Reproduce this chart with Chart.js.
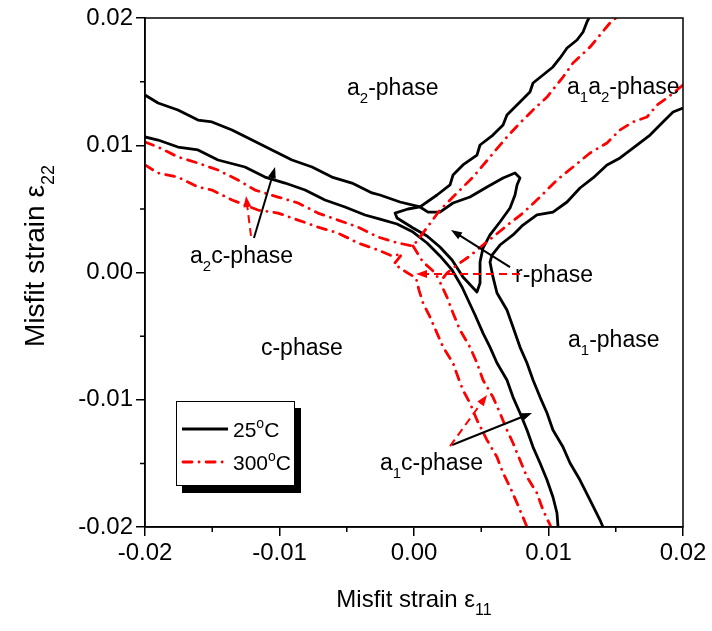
<!DOCTYPE html>
<html>
<head>
<meta charset="utf-8">
<script src="https://cdn.jsdelivr.net/npm/chart.js@4/dist/chart.umd.min.js"></script>
<style>
  html, body { margin: 0; padding: 0; background: #fff; }
  #wrap { width: 712px; height: 631px; }
</style>
</head>
<body>
<div id="wrap"><canvas id="c" width="712" height="631"></canvas></div>
<script>
// axis
const axisMin = -0.02, axisMax = 0.02;
const tickLabels = ['-0.02', '-0.01', '0.00', '0.01', '0.02'];
const minorTicks = [-0.015, -0.005, 0.005, 0.015];

// 25 C: a2 boundary (a2/a2c then a2/a1a2)
const a2X25 = [-0.0200,-0.01903,-0.01755,-0.01606,-0.01502,-0.01353,-0.01204,-0.01056,-0.00907,-0.00758,-0.00610,-0.00461,-0.00312,-0.00253,-0.00104,0.00045,0.00171,0.00268,0.00290,0.00364,0.00468,0.00491,0.00587,0.00662,0.00691,0.00788,0.00862,0.00885,0.00959,0.01033,0.01086,0.01138,0.01212,0.01257,0.01286,0.01301];
const a2Y25 = [0.01395,0.01332,0.01277,0.01198,0.01183,0.01120,0.01041,0.00963,0.00884,0.00829,0.00750,0.00703,0.00625,0.00609,0.00554,0.00515,0.00609,0.00688,0.00766,0.00845,0.00923,0.01002,0.01080,0.01159,0.01238,0.01340,0.01418,0.01489,0.01552,0.01615,0.01686,0.01764,0.01827,0.01890,0.01969,0.0200];

// 25 C: r-phase loop
const rX25 = [0.00045,-0.00045,-0.00141,-0.00126,-0.00007,0.00097,0.00193,0.00283,0.00364,0.00468,0.00491,0.00491,0.00513,0.00565,0.00639,0.00714,0.00751,0.00766,0.00788,0.00751,0.00662,0.00543,0.00416,0.00290,0.00193,0.00104,0.00045];
const rY25 = [0.00515,0.00499,0.00467,0.00428,0.00350,0.00287,0.00200,0.00098,-0.00035,-0.00153,-0.00083,0.00082,0.00192,0.00295,0.00397,0.00507,0.00609,0.00688,0.00743,0.00782,0.00743,0.00672,0.00593,0.00546,0.00475,0.00475,0.00515];

// 25 C: c boundary (c/a2c then c/a1c)
const cX25 = [-0.0200,-0.01903,-0.01755,-0.01606,-0.01457,-0.01257,-0.01108,-0.00959,-0.00810,-0.00662,-0.00513,-0.00364,-0.00253,-0.00126,-0.00007,0.00097,0.00193,0.00283,0.00357,0.00402,0.00454,0.00513,0.00565,0.00617,0.00691,0.00736,0.00788,0.00840,0.00885,0.00937,0.00989,0.01033,0.01063,0.01071];
const cY25 = [0.01065,0.01041,0.00986,0.00963,0.00884,0.00829,0.00750,0.00703,0.00648,0.00570,0.00515,0.00452,0.00420,0.00381,0.00318,0.00232,0.00130,0.00020,-0.00114,-0.00216,-0.00334,-0.00476,-0.00586,-0.00711,-0.00845,-0.00979,-0.01104,-0.01238,-0.01372,-0.01497,-0.01631,-0.01764,-0.01890,-0.0200];

// 25 C: a1 boundary (a1/a1a2 then a1/a1c)
const a1X25 = [0.0200,0.01926,0.01851,0.01755,0.01628,0.01532,0.01435,0.01331,0.01234,0.01138,0.01033,0.00914,0.00810,0.00736,0.00639,0.00580,0.00565,0.00587,0.00617,0.00691,0.00736,0.00788,0.00840,0.00885,0.00937,0.00989,0.01033,0.01108,0.01160,0.01234,0.01309,0.01383,0.01405];
const a1Y25 = [0.01293,0.01261,0.01183,0.01080,0.00978,0.00900,0.00845,0.00743,0.00664,0.00554,0.00475,0.00452,0.00373,0.00295,0.00216,0.00137,0.00082,-0.00035,-0.00161,-0.00295,-0.00428,-0.00586,-0.00711,-0.00845,-0.00979,-0.01104,-0.01238,-0.01372,-0.01497,-0.01631,-0.01788,-0.01945,-0.0200];

// 300 C: a2 boundary
const a2X300 = [-0.0200,-0.01903,-0.01755,-0.01606,-0.01457,-0.01309,-0.01182,-0.01011,-0.00862,-0.00714,-0.00565,-0.00416,-0.00268,-0.00119,-0.00007,0.00045,0.00193,0.00320,0.00439,0.00565,0.00691,0.00788,0.00885,0.00989,0.01108,0.01182,0.01309,0.01457,0.01502];
const a2Y300 = [0.01025,0.00986,0.00908,0.00860,0.00805,0.00727,0.00648,0.00593,0.00546,0.00467,0.00412,0.00357,0.00279,0.00232,0.00208,0.00279,0.00491,0.00625,0.00750,0.00908,0.01065,0.01175,0.01277,0.01379,0.01536,0.01646,0.01772,0.01961,0.0200];

// 300 C: short piece between the a2 and a1 corners
const rX300 = [-0.00007,0.00067,0.00134,0.00193];
const rY300 = [0.00208,0.00082,0.00020,-0.00059];

// 300 C: c boundary
const cX300 = [-0.0200,-0.01903,-0.01755,-0.01606,-0.01502,-0.01353,-0.01160,-0.01011,-0.00862,-0.00714,-0.00565,-0.00416,-0.00268,-0.00164,-0.00089,-0.00149,-0.00059,0.00015,0.00037,0.00067,0.00119,0.00171,0.00216,0.00290,0.00327,0.00364,0.00416,0.00468,0.00543,0.00617,0.00662,0.00714,0.00766,0.00810,0.00840];
const cY300 = [0.00845,0.00782,0.00750,0.00672,0.00648,0.00570,0.00491,0.00467,0.00412,0.00357,0.00310,0.00232,0.00177,0.00130,0.00145,0.00067,0.00004,-0.00043,-0.00138,-0.00240,-0.00350,-0.00476,-0.00586,-0.00711,-0.00821,-0.00924,-0.01026,-0.01159,-0.01317,-0.01450,-0.01576,-0.01686,-0.01812,-0.01922,-0.0200];

// 300 C: a1 boundary
const a1X300 = [0.0200,0.01881,0.01807,0.01732,0.01628,0.01532,0.01435,0.01309,0.01182,0.01063,0.00937,0.00810,0.00714,0.00587,0.00513,0.00416,0.00320,0.00245,0.00193,0.00245,0.00290,0.00342,0.00416,0.00468,0.00513,0.00587,0.00639,0.00691,0.00736,0.00788,0.00840,0.00914,0.00959,0.01019];
const a1Y300 = [0.01473,0.01371,0.01316,0.01222,0.01183,0.01120,0.01018,0.00939,0.00829,0.00727,0.00593,0.00467,0.00389,0.00279,0.00216,0.00130,0.00059,-0.00004,-0.00075,-0.00193,-0.00318,-0.00452,-0.00586,-0.00711,-0.00845,-0.00979,-0.01104,-0.01238,-0.01340,-0.01474,-0.01607,-0.01733,-0.01867,-0.0200];

// phase labels: [parts, x, y] in strain units (left edge, baseline)
const phaseLabels = [
  [[['a', ''], ['2', 'sub'], ['-phase', '']], -0.00498, 0.01395],
  [[['a', ''], ['1', 'sub'], ['a', ''], ['2', 'sub'], ['-phase', '']], 0.01138, 0.01400],
  [[['a', ''], ['2', 'sub'], ['c-phase', '']], -0.01665, 0.00075],
  [[['r-phase', '']], 0.00751, -0.00075],
  [[['c-phase', '']], -0.01138, -0.00648],
  [[['a', ''], ['1', 'sub'], ['-phase', '']], 0.01145, -0.00586],
  [[['a', ''], ['1', 'sub'], ['c-phase', '']], -0.00253, -0.01552]
];

// arrows: [x0, y0, x1, y1, colour, dashed]
const arrows = [
  [-0.0119, 0.00271, -0.01033, 0.00829, '#000', false],
  [-0.01212, 0.00287, -0.01249, 0.00601, '#ff0000', true],
  [0.00714, 0.00043, 0.00275, 0.00334, '#000', false],
  [0.00788, -0.00012, 0.00015, -0.00012, '#ff0000', true],
  [0.00283, -0.01356, 0.00877, -0.01104, '#000', false],
  [0.00268, -0.01364, 0.00543, -0.00963, '#ff0000', true]
];

const FONT = '"Liberation Sans", Arial, sans-serif';
const RED = '#ff0000';
const DASHDOT = [9, 7, 0.1, 7];

function pts(xs, ys) {
  return xs.map((v, i) => ({ x: v, y: ys[i] }));
}

function curve(xs, ys, color, dash) {
  return {
    data: pts(xs, ys),
    showLine: true,
    borderColor: color,
    backgroundColor: color,
    borderWidth: 2.8,
    borderDash: dash || [],
    borderCapStyle: dash ? 'round' : 'butt',
    borderJoinStyle: 'round',
    pointRadius: 0,
    tension: 0,
    fill: false,
    clip: 0,
  };
}

function richWidth(ctx, parts, size) {
  let w = 0;
  parts.forEach(([t, k]) => {
    ctx.font = (k ? Math.round(size * 0.66) : size) + 'px ' + FONT;
    w += ctx.measureText(t).width;
  });
  return w;
}

function drawRich(ctx, parts, x, y, size) {
  let cx = x;
  parts.forEach(([t, k]) => {
    const fs = k ? Math.round(size * 0.66) : size;
    ctx.font = fs + 'px ' + FONT;
    let dy = 0;
    if (k === 'sub') dy = size * 0.34;
    if (k === 'sup') dy = -size * 0.42;
    ctx.fillText(t, cx, y + dy);
    cx += ctx.measureText(t).width;
  });
}

function drawArrow(ctx, x0, y0, x1, y1, color, dashed) {
  const ang = Math.atan2(y1 - y0, x1 - x0);
  const len = 11, half = 4;
  ctx.save();
  ctx.strokeStyle = color;
  ctx.fillStyle = color;
  ctx.lineWidth = 2;
  ctx.setLineDash(dashed ? [8, 5] : []);
  ctx.beginPath();
  ctx.moveTo(x0, y0);
  ctx.lineTo(x1 - Math.cos(ang) * len * 0.8, y1 - Math.sin(ang) * len * 0.8);
  ctx.stroke();
  ctx.setLineDash([]);
  ctx.beginPath();
  ctx.moveTo(x1, y1);
  ctx.lineTo(x1 - Math.cos(ang) * len - Math.sin(ang) * half, y1 - Math.sin(ang) * len + Math.cos(ang) * half);
  ctx.lineTo(x1 - Math.cos(ang) * len + Math.sin(ang) * half, y1 - Math.sin(ang) * len - Math.cos(ang) * half);
  ctx.closePath();
  ctx.fill();
  ctx.restore();
}

const overlay = {
  id: 'overlay',
  afterDatasetsDraw(chart) {
    const { ctx, chartArea: a, scales: { x, y } } = chart;
    ctx.save();
    ctx.strokeStyle = '#000';
    ctx.lineWidth = 1.5;
    ctx.strokeRect(a.left, a.top, a.right - a.left, a.bottom - a.top);

    // minor ticks
    ctx.beginPath();
    minorTicks.forEach(v => {
      const px = x.getPixelForValue(v);
      ctx.moveTo(px, a.bottom);
      ctx.lineTo(px, a.bottom + 5);
      const py = y.getPixelForValue(v);
      ctx.moveTo(a.left - 5, py);
      ctx.lineTo(a.left, py);
    });
    ctx.stroke();

    // phase labels
    ctx.fillStyle = '#000';
    ctx.textBaseline = 'alphabetic';
    ctx.textAlign = 'left';
    phaseLabels.forEach(([parts, vx, vy]) => {
      drawRich(ctx, parts, x.getPixelForValue(vx), y.getPixelForValue(vy), 23);
    });

    // arrows
    arrows.forEach(([x0, y0, x1, y1, col, dashed]) => {
      drawArrow(ctx,
        x.getPixelForValue(x0), y.getPixelForValue(y0),
        x.getPixelForValue(x1), y.getPixelForValue(y1), col, dashed);
    });

    // legend box with shadow
    const lx = a.left + 31, ly = a.top + 383, lw = 118, lh = 84;
    ctx.fillStyle = '#000';
    ctx.fillRect(lx + 6, ly + 7, lw + 1, lh + 1);
    ctx.fillStyle = '#fff';
    ctx.fillRect(lx, ly, lw, lh);
    ctx.lineWidth = 1;
    ctx.strokeStyle = '#000';
    ctx.strokeRect(lx + 0.5, ly + 0.5, lw, lh);

    ctx.lineWidth = 2.8;
    ctx.beginPath();
    ctx.moveTo(lx + 6, ly + 28);
    ctx.lineTo(lx + 52, ly + 28);
    ctx.stroke();
    ctx.strokeStyle = RED;
    ctx.lineCap = 'round';
    ctx.setLineDash(DASHDOT);
    ctx.beginPath();
    ctx.moveTo(lx + 7, ly + 61);
    ctx.lineTo(lx + 52, ly + 61);
    ctx.stroke();
    ctx.setLineDash([]);
    ctx.lineCap = 'butt';

    ctx.fillStyle = '#000';
    drawRich(ctx, [['25', ''], ['o', 'sup'], ['C', '']], lx + 57, ly + 36, 21);
    drawRich(ctx, [['300', ''], ['o', 'sup'], ['C', '']], lx + 57, ly + 69, 21);

    // axis titles
    const xt = [['Misfit strain \u03b5', ''], ['11', 'sub']];
    const wx = richWidth(ctx, xt, 24);
    drawRich(ctx, xt, (a.left + a.right) / 2 - wx / 2, 607, 24);

    const yt = [['Misfit strain \u03b5', ''], ['22', 'sub']];
    const wy = richWidth(ctx, yt, 28);
    ctx.translate(44, 256);
    ctx.rotate(-Math.PI / 2);
    drawRich(ctx, yt, -wy / 2, 0, 28);
    ctx.restore();
  }
};

const tickOpts = {
  min: axisMin,
  max: axisMax,
  ticks: {
    stepSize: 0.01,
    color: '#000',
    padding: 3,
    font: { family: FONT, size: 24 },
    callback: (v, i) => tickLabels[i],
  },
  grid: {
    drawOnChartArea: false,
    drawTicks: true,
    tickLength: 9,
    color: '#000',
    lineWidth: 1.5,
  },
  border: { display: true, color: '#000', width: 1.5 },
};

new Chart(document.getElementById('c'), {
  type: 'scatter',
  data: {
    datasets: [
      curve(cX300, cY300, RED, DASHDOT),
      curve(a2X300, a2Y300, RED, DASHDOT),
      curve(rX300, rY300, RED, DASHDOT),
      curve(a1X300, a1Y300, RED, DASHDOT),
      curve(a2X25, a2Y25, '#000'),
      curve(rX25, rY25, '#000'),
      curve(cX25, cY25, '#000'),
      curve(a1X25, a1Y25, '#000'),
    ],
  },
  options: {
    responsive: false,
    animation: false,
    layout: { padding: { left: 0, top: 18, right: 29, bottom: 0 } },
    plugins: { legend: { display: false }, tooltip: { enabled: false } },
    scales: {
      x: Object.assign({ type: 'linear', position: 'bottom',
        afterFit: s => { s.height = 104; } }, tickOpts),
      y: Object.assign({ type: 'linear', position: 'left',
        afterFit: s => { s.width = 145; } }, tickOpts),
    },
  },
  plugins: [overlay],
});
</script>
</body>
</html>
